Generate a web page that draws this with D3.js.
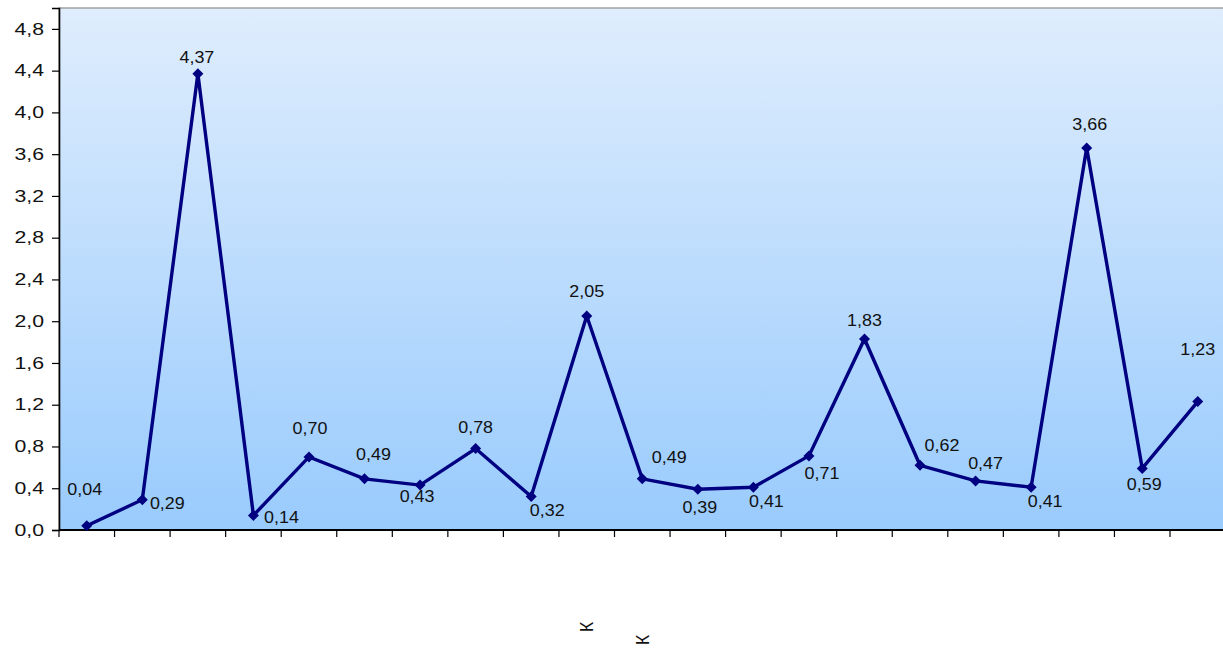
<!DOCTYPE html>
<html>
<head>
<meta charset="utf-8">
<script src="https://cdn.jsdelivr.net/npm/d3@7"></script>
<style>
  html, body { margin: 0; padding: 0; background: #ffffff; }
  svg { display: block; }
  text { font-family: "Liberation Sans", Arial, sans-serif; fill: #111; }
</style>
</head>
<body>
<svg id="chart" width="1223" height="649"></svg>
<script>
// ---- data ----
const categories = ["", "", "", "", "", "", "", "", "", "К", "К", "", "", "", "", "", "", "", "", "", ""];
const values = [0.04, 0.29, 4.37, 0.14, 0.70, 0.49, 0.43, 0.78, 0.32, 2.05, 0.49, 0.39, 0.41, 0.71, 1.83, 0.62, 0.47, 0.41, 3.66, 0.59, 1.23];
const yTicks = [0, 0.4, 0.8, 1.2, 1.6, 2.0, 2.4, 2.8, 3.2, 3.6, 4.0, 4.4, 4.8];
const yMax = 5.0;

// ---- layout / style (label nudges relative to each point, px) ----
const labelNudge = [[-2,-37],[25,4],[-1,-17],[28,2],[1,-29],[9,-25],[-3,11],[0,-21],[16,14],[0,-25],
                    [27,-22],[2,18],[13,14],[13,17],[0,-19],[22,-20],[10,-18],[14,14],[3,-24],[2,16],[0,-52]];
const catLabelDrop = 97;
const catLabelStagger = 13;
const tickStretch = 1.33, labelStretch = 1.12;

const svg = d3.select("#chart");
const plot = { left: 59, top: 8, bottom: 530 };
const step = 55.55;
const plotRight = plot.left + step * values.length;

const x = d3.scaleBand().domain(d3.range(values.length)).range([plot.left, plotRight]).padding(0);
const y = d3.scaleLinear().domain([0, yMax]).range([plot.bottom, plot.top]);
const cx = i => x(i) + x.bandwidth() / 2;

const defs = svg.append("defs");
const grad = defs.append("linearGradient").attr("id", "bg").attr("x1", 0).attr("y1", 0).attr("x2", 0).attr("y2", 1);
grad.append("stop").attr("offset", "0%").attr("stop-color", "#dfedfd");
grad.append("stop").attr("offset", "100%").attr("stop-color", "#99cbfd");

svg.append("rect")
  .attr("x", plot.left).attr("y", plot.top)
  .attr("width", plotRight - plot.left).attr("height", plot.bottom - plot.top)
  .attr("fill", "url(#bg)").attr("stroke", "#8c8c8c").attr("stroke-width", 1.2);

// y axis
const fmt = v => d3.format(".1f")(v).replace(".", ",");
const tickSize = 7, tickPad = 8;
const yAxis = svg.append("g").attr("transform", `translate(${plot.left},0)`)
  .call(d3.axisLeft(y).tickValues(yTicks).tickFormat(fmt).tickSize(tickSize).tickPadding(tickPad));
yAxis.select(".domain").attr("stroke", "#000").attr("stroke-width", 1.6);
yAxis.selectAll(".tick line").attr("stroke", "#000").attr("stroke-width", 1.2);
yAxis.selectAll(".tick text").attr("font-size", 16).attr("fill", "#111")
  .attr("font-family", "Liberation Sans, Arial, sans-serif")
  .attr("x", -(tickSize + tickPad) / tickStretch)
  .attr("transform", `scale(${tickStretch},1)`);

// x axis line and boundary ticks
const xAxisG = svg.append("g");
xAxisG.append("line").attr("x1", plot.left).attr("x2", plotRight)
  .attr("y1", plot.bottom).attr("y2", plot.bottom).attr("stroke", "#000").attr("stroke-width", 2);
const bounds = d3.range(values.length).map(i => x(i)).concat([plotRight]);
xAxisG.selectAll("line.tk").data(bounds).join("line").attr("class", "tk")
  .attr("x1", d => d).attr("x2", d => d).attr("y1", plot.bottom).attr("y2", plot.bottom + 7)
  .attr("stroke", "#000").attr("stroke-width", 1.2);

// category labels (rotated)
let k = 0;
categories.forEach((c, i) => {
  if (!c) return;
  const yy = plot.bottom + catLabelDrop + k * catLabelStagger;
  k++;
  svg.append("text").attr("transform", `translate(${cx(i)},${yy}) rotate(-90)`)
    .attr("text-anchor", "middle").attr("dy", "0.35em").attr("font-size", 18).text(c);
});

// line
const line = d3.line().x((d, i) => cx(i)).y(d => y(d));
svg.append("path").datum(values).attr("d", line)
  .attr("fill", "none").attr("stroke", "#000080").attr("stroke-width", 3.4).attr("stroke-linejoin", "miter");

// markers (square diamonds)
const r = 5.5;
svg.selectAll("path.mk").data(values).join("path").attr("class", "mk")
  .attr("d", `M0,${-r}L${r},0L0,${r}L${-r},0Z`)
  .attr("transform", (d, i) => `translate(${cx(i)},${y(d)})`)
  .attr("fill", "#000080");

// data labels
svg.selectAll("g.dl").data(values).join("g").attr("class", "dl")
  .attr("transform", (d, i) => `translate(${cx(i) + labelNudge[i][0]},${y(d) + labelNudge[i][1]}) scale(${labelStretch},1)`)
  .append("text")
  .attr("dy", "0.36em")
  .attr("text-anchor", "middle").attr("font-size", 16)
  .text(d => d3.format(".2f")(d).replace(".", ","));
</script>
</body>
</html>
